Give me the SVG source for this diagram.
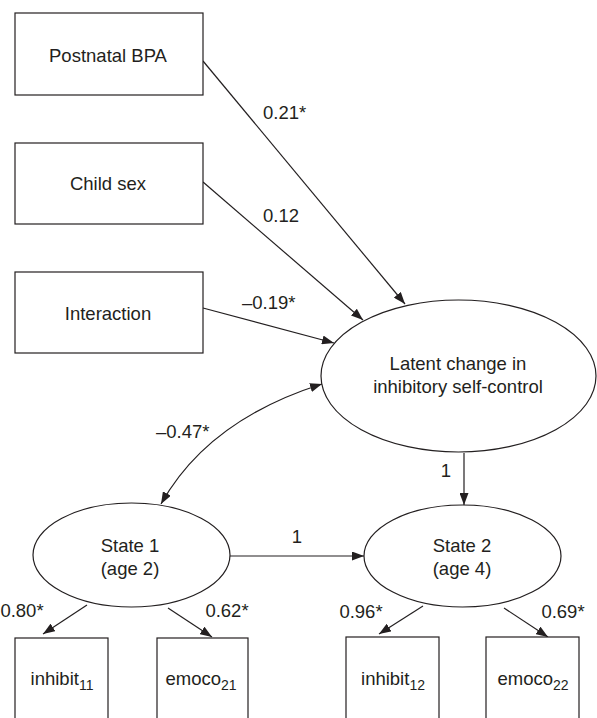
<svg xmlns="http://www.w3.org/2000/svg" width="597" height="718" viewBox="0 0 597 718">
<defs>
<style>
.box{fill:#fff;stroke:#231f20;stroke-width:1.2}
.ell{fill:#fff;stroke:#231f20;stroke-width:1.2}
.t{font-family:"Liberation Sans",Arial,sans-serif;font-size:18.5px;fill:#231f20}
.m{text-anchor:middle}
.c{fill:none;stroke:#231f20;stroke-width:1.2}
</style>
<marker id="ah" viewBox="0 0 12 9" refX="12" refY="4.5" markerWidth="12" markerHeight="9" markerUnits="userSpaceOnUse" orient="auto-start-reverse">
<path d="M0,0 L12,4.5 L0,9 z" fill="#231f20"/>
</marker>
</defs>
<rect width="597" height="718" fill="#fff"/>
<g id="connectors">
<line class="c" x1="203" y1="61" x2="405" y2="304" marker-end="url(#ah)"/>
<line class="c" x1="203" y1="182" x2="363" y2="320" marker-end="url(#ah)"/>
<line class="c" x1="203" y1="308" x2="334" y2="343" marker-end="url(#ah)"/>
<path class="c" d="M322,384 Q208,420 161,504" marker-start="url(#ah)" marker-end="url(#ah)"/>
<line class="c" x1="464" y1="453" x2="464" y2="505" marker-end="url(#ah)"/>
<line class="c" x1="230" y1="556" x2="364" y2="556" marker-end="url(#ah)"/>
<line class="c" x1="87" y1="605" x2="43" y2="634" marker-end="url(#ah)"/>
<line class="c" x1="168" y1="608" x2="212" y2="637" marker-end="url(#ah)"/>
<line class="c" x1="423" y1="606" x2="379" y2="634" marker-end="url(#ah)"/>
<line class="c" x1="504" y1="608" x2="548" y2="637" marker-end="url(#ah)"/>
<text class="t" x="263" y="119">0.21*</text>
<text class="t" x="263" y="222">0.12</text>
<text class="t" x="242" y="309">–0.19*</text>
<text class="t" x="156" y="438">–0.47*</text>
<text class="t m" x="446" y="477">1</text>
<text class="t m" x="297" y="543">1</text>
<text class="t m" x="22" y="617">0.80*</text>
<text class="t m" x="227" y="617">0.62*</text>
<text class="t m" x="361" y="618">0.96*</text>
<text class="t m" x="563" y="618">0.69*</text>
</g>
<g id="postnatal">
<rect class="box" x="15" y="13" width="188" height="82"/>
<text class="t m" x="108" y="62">Postnatal BPA</text>
</g>
<g id="childsex">
<rect class="box" x="15" y="143" width="188" height="81"/>
<text class="t m" x="108" y="190">Child sex</text>
</g>
<g id="interaction">
<rect class="box" x="15" y="272" width="188" height="81"/>
<text class="t m" x="108" y="320">Interaction</text>
</g>
<g id="latent">
<ellipse class="ell" cx="458.5" cy="376" rx="137.5" ry="76"/>
<text class="t m" x="458" y="370">Latent change in</text>
<text class="t m" x="458" y="393">inhibitory self-control</text>
</g>
<g id="state1">
<ellipse class="ell" cx="131.5" cy="555" rx="98.5" ry="52"/>
<text class="t m" x="130" y="552">State 1</text>
<text class="t m" x="130" y="575">(age 2)</text>
</g>
<g id="state2">
<ellipse class="ell" cx="462.5" cy="556" rx="98.5" ry="51"/>
<text class="t m" x="462" y="552">State 2</text>
<text class="t m" x="462" y="575">(age 4)</text>
</g>
<g id="inhibit11">
<rect class="box" x="15" y="638" width="93" height="100"/>
<text class="t m" x="62" y="685">inhibit<tspan font-size="14" dy="5">11</tspan></text>
</g>
<g id="emoco21">
<rect class="box" x="157" y="638" width="91" height="100"/>
<text class="t m" x="201" y="685">emoco<tspan font-size="14" dy="5">21</tspan></text>
</g>
<g id="inhibit12">
<rect class="box" x="346" y="637" width="93" height="100"/>
<text class="t m" x="393" y="685">inhibit<tspan font-size="14" dy="5">12</tspan></text>
</g>
<g id="emoco22">
<rect class="box" x="486" y="637" width="93" height="100"/>
<text class="t m" x="533" y="685">emoco<tspan font-size="14" dy="5">22</tspan></text>
</g>
</svg>
